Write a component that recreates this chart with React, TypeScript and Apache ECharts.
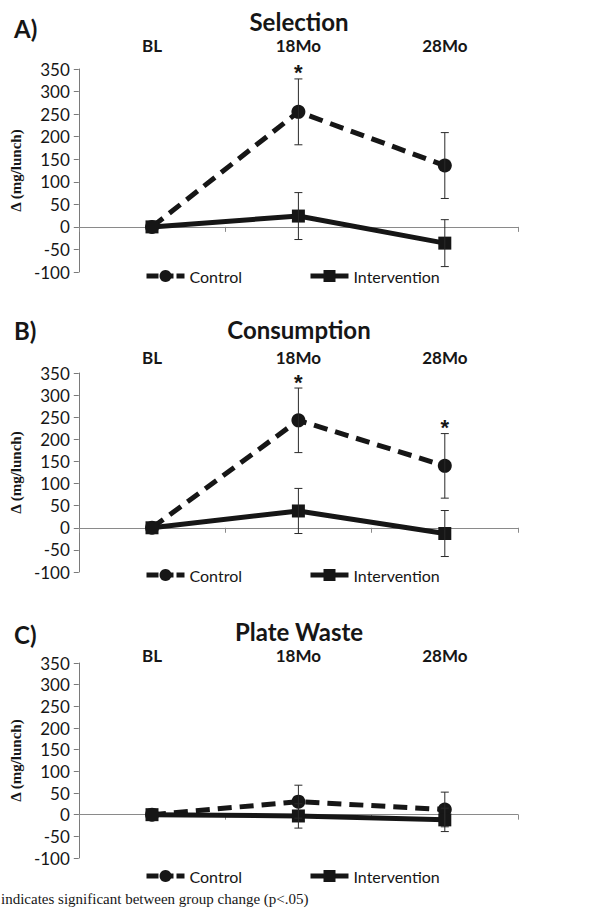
import React, { useEffect, useRef } from 'react';
import * as echarts from 'echarts';

const categories = ['BL', '18Mo', '28Mo'];
const seriesNames = ['Control', 'Intervention'];
const panelLetters = ['A)', 'B)', 'C)'];
const panelTitles = ['Selection', 'Consumption', 'Plate Waste'];

// A) Selection
const selectionControl = [0, 255, 136];
const selectionControlErr = [0, 73, 73];
const selectionIntervention = [0, 24, -36];
const selectionInterventionErr = [0, 52, 52];
const selectionStars = [false, true, false];

// B) Consumption
const consumptionControl = [0, 243, 140];
const consumptionControlErr = [0, 73, 73];
const consumptionIntervention = [0, 38, -13];
const consumptionInterventionErr = [0, 51, 52];
const consumptionStars = [false, true, true];

// C) Plate Waste
const wasteControl = [0, 30, 12];
const wasteControlErr = [0, 38, 40];
const wasteIntervention = [0, -3, -12];
const wasteInterventionErr = [0, 28, 27];
const wasteStars = [false, false, false];

const footnote = 'indicates significant between group change (p<.05)';
const yAxisName = 'Δ (mg/lunch)';

const panelData = [
  { control: selectionControl, controlErr: selectionControlErr, interv: selectionIntervention, intervErr: selectionInterventionErr, stars: selectionStars },
  { control: consumptionControl, controlErr: consumptionControlErr, interv: consumptionIntervention, intervErr: consumptionInterventionErr, stars: consumptionStars },
  { control: wasteControl, controlErr: wasteControlErr, interv: wasteIntervention, intervErr: wasteInterventionErr, stars: wasteStars },
];

// layout
const gridTops = [69, 373, 663];
const gridHeights = [203, 199, 195];
const catLabelMargins = [16, 8, 0];
const legendTops = [263, 562, 863];
const letterY = [29, 331, 635];
const titleY = [21, 329, 631];

const INK = '#161616';
const SANS = 'Lato';

export default function App() {
  const ref = useRef<HTMLDivElement>(null);
  useEffect(() => {
    if (!ref.current) return;
    const chart = echarts.init(ref.current, null, { renderer: 'svg' });

    const grids: any[] = [];
    const xAxes: any[] = [];
    const yAxes: any[] = [];
    const series: any[] = [];
    const legends: any[] = [];
    const graphics: any[] = [];

    panelData.forEach((p, g) => {
      grids.push({ left: 78, right: 80, top: gridTops[g], height: gridHeights[g], containLabel: false });
      xAxes.push({
        type: 'category', gridIndex: g, data: categories, position: 'bottom', boundaryGap: true,
        axisLine: { show: true, onZero: true, lineStyle: { color: '#8a8a8a', width: 1 } },
        axisTick: { show: true, length: 5, interval: 0, alignWithLabel: false, lineStyle: { color: '#8a8a8a' } },
        axisLabel: { show: false }, splitLine: { show: false },
      });
      xAxes.push({
        type: 'category', gridIndex: g, data: categories, position: 'top', boundaryGap: true,
        axisLine: { show: false, onZero: false }, axisTick: { show: false },
        axisLabel: { show: true, margin: catLabelMargins[g], fontFamily: SANS, fontWeight: 'bold', fontSize: 17, lineHeight: 16, color: INK },
        splitLine: { show: false },
      });
      yAxes.push({
        type: 'value', gridIndex: g, min: -100, max: 350, interval: 50,
        name: yAxisName, nameLocation: 'middle', nameGap: 48, nameRotate: 90,
        nameTextStyle: { fontFamily: 'Liberation Serif', fontWeight: 'bold', fontSize: 15, color: INK },
        axisLine: { show: true, lineStyle: { color: '#7a7a7a', width: 1 } },
        axisTick: { show: true, length: 5, lineStyle: { color: '#7a7a7a' } },
        axisLabel: { fontFamily: SANS, fontSize: 17, color: INK, margin: 9 },
        splitLine: { show: false },
      });

      series.push({
        name: seriesNames[0], type: 'line', xAxisIndex: 2 * g, yAxisIndex: g,
        data: p.control, symbol: 'circle', symbolSize: 14,
        lineStyle: { color: INK, width: 5, type: [14, 8] },
        itemStyle: { color: INK }, z: 3,
      });
      series.push({
        name: seriesNames[1], type: 'line', xAxisIndex: 2 * g, yAxisIndex: g,
        data: p.interv, symbol: 'rect', symbolSize: 13,
        lineStyle: { color: INK, width: 5, type: 'solid' },
        itemStyle: { color: INK }, z: 4,
      });

      const errItems: any[] = [];
      categories.forEach((_, i) => {
        errItems.push([i, p.control[i], p.controlErr[i], p.stars[i] ? 1 : 0]);
        errItems.push([i, p.interv[i], p.intervErr[i], 0]);
      });
      series.push({
        type: 'custom', xAxisIndex: 2 * g, yAxisIndex: g, z: 5, silent: true,
        data: errItems,
        encode: { x: 0, y: 1 },
        renderItem: (params: any, api: any) => {
          const x = api.value(0);
          const v = api.value(1);
          const e = api.value(2);
          const star = api.value(3);
          const children: any[] = [];
          if (e > 0) {
            const top = api.coord([x, v + e]);
            const bot = api.coord([x, v - e]);
            const st = { stroke: '#2a2a2a', lineWidth: 1 };
            children.push({ type: 'line', shape: { x1: top[0], y1: top[1], x2: bot[0], y2: bot[1] }, style: st });
            children.push({ type: 'line', shape: { x1: top[0] - 4, y1: top[1], x2: top[0] + 4, y2: top[1] }, style: st });
            children.push({ type: 'line', shape: { x1: bot[0] - 4, y1: bot[1], x2: bot[0] + 4, y2: bot[1] }, style: st });
            if (star) {
              children.push({
                type: 'text', x: top[0], y: top[1] - 6,
                style: { text: '*', fontFamily: 'Liberation Sans', fontWeight: 'bold', fontSize: 22, fill: INK, align: 'center', verticalAlign: 'middle' },
              });
            }
          }
          return { type: 'group', children };
        },
      });

      legends.push({
        data: [
          { name: seriesNames[0], lineStyle: { width: 5, type: [12, 3], color: INK } },
          { name: seriesNames[1], lineStyle: { width: 5, type: 'solid', color: INK } },
        ],
        top: legendTops[g], left: 139, itemWidth: 38, itemHeight: 15, itemGap: 66,
        textStyle: { fontFamily: SANS, fontSize: 16, color: INK },
        selectedMode: false,
      });

      graphics.push({
        type: 'text', left: 14, top: letterY[g] - 13,
        style: { text: panelLetters[g], fontFamily: SANS, fontWeight: 'bold', fontSize: 24, fill: INK },
      });
      graphics.push({
        type: 'text', x: 299, y: titleY[g],
        style: { text: panelTitles[g], fontFamily: SANS, fontWeight: 'bold', fontSize: 24, lineHeight: 22, fill: INK, align: 'center', verticalAlign: 'middle' },
      });
    });

    graphics.push({
      type: 'text', x: 1, y: 899,
      style: { text: footnote, fontFamily: 'Liberation Serif', fontSize: 15, fill: INK, align: 'left', verticalAlign: 'middle' },
    });

    chart.setOption({
      animation: false,
      backgroundColor: '#ffffff',
      grid: grids,
      xAxis: xAxes,
      yAxis: yAxes,
      legend: legends,
      series,
      graphic: graphics,
    });
    return () => chart.dispose();
  }, []);
  return <div ref={ref} style={{ width: 598, height: 910, position: 'fixed', left: 0, top: 0 }} />;
}
